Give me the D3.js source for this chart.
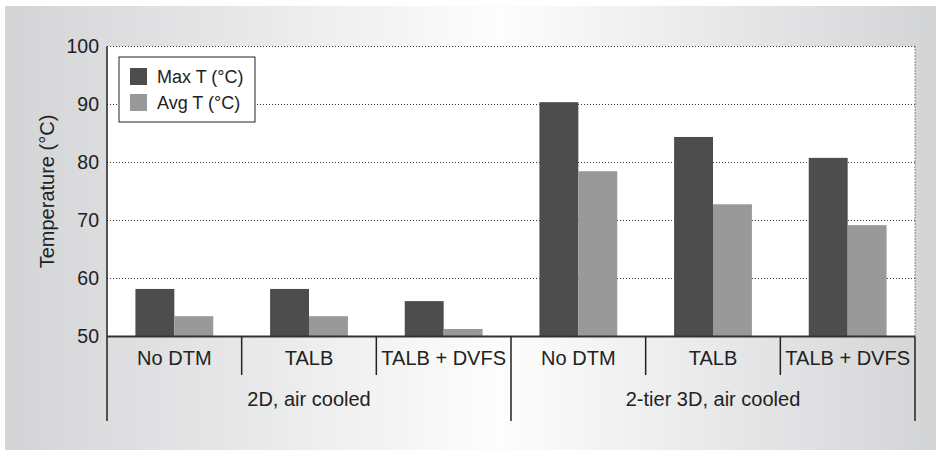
<!DOCTYPE html>
<html>
<head>
<meta charset="utf-8">
<script src="https://cdn.jsdelivr.net/npm/d3@7"></script>
<style>
  body { margin: 0; background: #fff; }
  text { font-family: "Liberation Sans", Arial, sans-serif; fill: #222; }
</style>
</head>
<body>
<svg id="chart"></svg>
<script>
const groups = ["2D, air cooled", "2-tier 3D, air cooled"];
const categories = ["No DTM", "TALB", "TALB + DVFS"];
const series = ["Max T (°C)", "Avg T (°C)"];
const maxT = [58.2, 58.2, 56.1, 90.4, 84.4, 80.8];
const avgT = [53.5, 53.5, 51.3, 78.5, 72.8, 69.2];
const yTicks = [50, 60, 70, 80, 90, 100];

const svgWidth = 936, svgHeight = 450;
const margin = { top: 46.5, right: 21, bottom: 113.5, left: 107 };
const width = svgWidth - margin.left - margin.right;
const height = svgHeight - margin.top - margin.bottom;

const svg = d3.select("#chart")
    .attr("width", svgWidth)
    .attr("height", svgHeight);

// background panel with horizontal gradient
const grad = svg.append("defs").append("linearGradient")
    .attr("id", "bg").attr("x1", "0%").attr("x2", "100%").attr("y1", "0%").attr("y2", "0%");
grad.append("stop").attr("offset", "0%").attr("stop-color", "#d3d4d6");
grad.append("stop").attr("offset", "53%").attr("stop-color", "#fdfdfd");
grad.append("stop").attr("offset", "100%").attr("stop-color", "#d3d4d6");
svg.append("rect").attr("x", 5).attr("y", 6).attr("width", 931).attr("height", 444)
    .attr("fill", "url(#bg)");

const data = [];
groups.forEach((g, gi) => categories.forEach((c, ci) => {
    const i = gi * categories.length + ci;
    data.push({ key: g + "|" + c, group: g, cat: c, values: [maxT[i], avgT[i]] });
}));

const x = d3.scaleBand()
    .domain(data.map(d => d.key))
    .range([margin.left, margin.left + width]);

const xSeries = d3.scaleBand()
    .domain(series)
    .range([0, x.bandwidth()])
    .paddingOuter(0.73);

const y = d3.scaleLinear()
    .domain([50, 100])
    .range([margin.top + height, margin.top]);

const color = d3.scaleOrdinal().domain(series).range(["#4d4d4d", "#999999"]);

// plot area
svg.append("rect")
    .attr("x", margin.left).attr("y", margin.top)
    .attr("width", width).attr("height", height)
    .attr("fill", "#fff");

// gridlines
svg.append("g")
    .selectAll("line")
    .data(yTicks.slice(1))
    .enter().append("line")
    .attr("x1", margin.left).attr("x2", margin.left + width)
    .attr("y1", d => y(d)).attr("y2", d => y(d))
    .attr("stroke", "#333").attr("stroke-width", 1)
    .attr("stroke-dasharray", "1,2");

svg.append("line")
    .attr("x1", margin.left + width).attr("x2", margin.left + width)
    .attr("y1", margin.top).attr("y2", margin.top + height)
    .attr("stroke", "#333").attr("stroke-width", 1)
    .attr("stroke-dasharray", "1,2");

// bars
const cat = svg.selectAll(".cat")
    .data(data)
    .enter().append("g")
    .attr("class", "cat")
    .attr("transform", d => `translate(${x(d.key)},0)`);

cat.selectAll("rect")
    .data(d => d.values.map((v, i) => ({ s: series[i], v: v })))
    .enter().append("rect")
    .attr("x", d => xSeries(d.s))
    .attr("width", xSeries.bandwidth())
    .attr("y", d => y(d.v))
    .attr("height", d => y(50) - y(d.v))
    .attr("fill", d => color(d.s));

// y axis
const yAxis = svg.append("g")
    .attr("transform", `translate(${margin.left},0)`)
    .call(d3.axisLeft(y).tickValues(yTicks).tickSize(0).tickPadding(8));
yAxis.select(".domain").remove();
yAxis.selectAll("text")
    .style("font-size", "19.5px")
    .style("font-family", "Liberation Sans, Arial, sans-serif")
    .attr("fill", "#222");

svg.append("line")
    .attr("x1", margin.left).attr("x2", margin.left)
    .attr("y1", margin.top).attr("y2", 421)
    .attr("stroke", "#222").attr("stroke-width", 1.5);

svg.append("line")
    .attr("x1", margin.left).attr("x2", margin.left + width)
    .attr("y1", y(50)).attr("y2", y(50))
    .attr("stroke", "#333").attr("stroke-width", 2);

svg.append("text")
    .attr("transform", `translate(47,${margin.top + height / 2}) rotate(-90)`)
    .attr("text-anchor", "middle")
    .attr("dy", "0.35em")
    .style("font-size", "20px")
    .text("Temperature (°C)");

// category separators and labels
const keys = x.domain();
keys.forEach((k, i) => {
    if (i === 0) return;
    const isGroupEdge = i % categories.length === 0;
    svg.append("line")
        .attr("x1", x(k)).attr("x2", x(k))
        .attr("y1", y(50)).attr("y2", isGroupEdge ? 421 : 375)
        .attr("stroke", "#222").attr("stroke-width", 1.5);
});
svg.append("line")
    .attr("x1", margin.left + width).attr("x2", margin.left + width)
    .attr("y1", y(50)).attr("y2", 421)
    .attr("stroke", "#222").attr("stroke-width", 1.5);

svg.selectAll(".catLabel")
    .data(data)
    .enter().append("text")
    .attr("class", "catLabel")
    .attr("x", d => x(d.key) + x.bandwidth() / 2)
    .attr("y", 365)
    .attr("text-anchor", "middle")
    .style("font-size", "20px")
    .text(d => d.cat);

svg.selectAll(".groupLabel")
    .data(groups)
    .enter().append("text")
    .attr("class", "groupLabel")
    .attr("x", g => {
        const ks = data.filter(d => d.group === g).map(d => d.key);
        return (x(ks[0]) + x(ks[ks.length - 1]) + x.bandwidth()) / 2;
    })
    .attr("y", 406)
    .attr("text-anchor", "middle")
    .style("font-size", "20px")
    .text(d => d);

// legend
const legend = svg.append("g").attr("transform", "translate(119,57)");
legend.append("rect")
    .attr("width", 136).attr("height", 65)
    .attr("fill", "#fff").attr("stroke", "#222").attr("stroke-width", 1);
const item = legend.selectAll(".legend")
    .data(series)
    .enter().append("g")
    .attr("class", "legend")
    .attr("transform", (d, i) => `translate(11, ${11 + i * 26})`);
item.append("rect")
    .attr("width", 17).attr("height", 17)
    .attr("fill", d => color(d));
item.append("text")
    .attr("x", 27).attr("y", 8.5)
    .attr("dy", "0.35em")
    .style("font-size", "18px")
    .text(d => d);
</script>
</body>
</html>
